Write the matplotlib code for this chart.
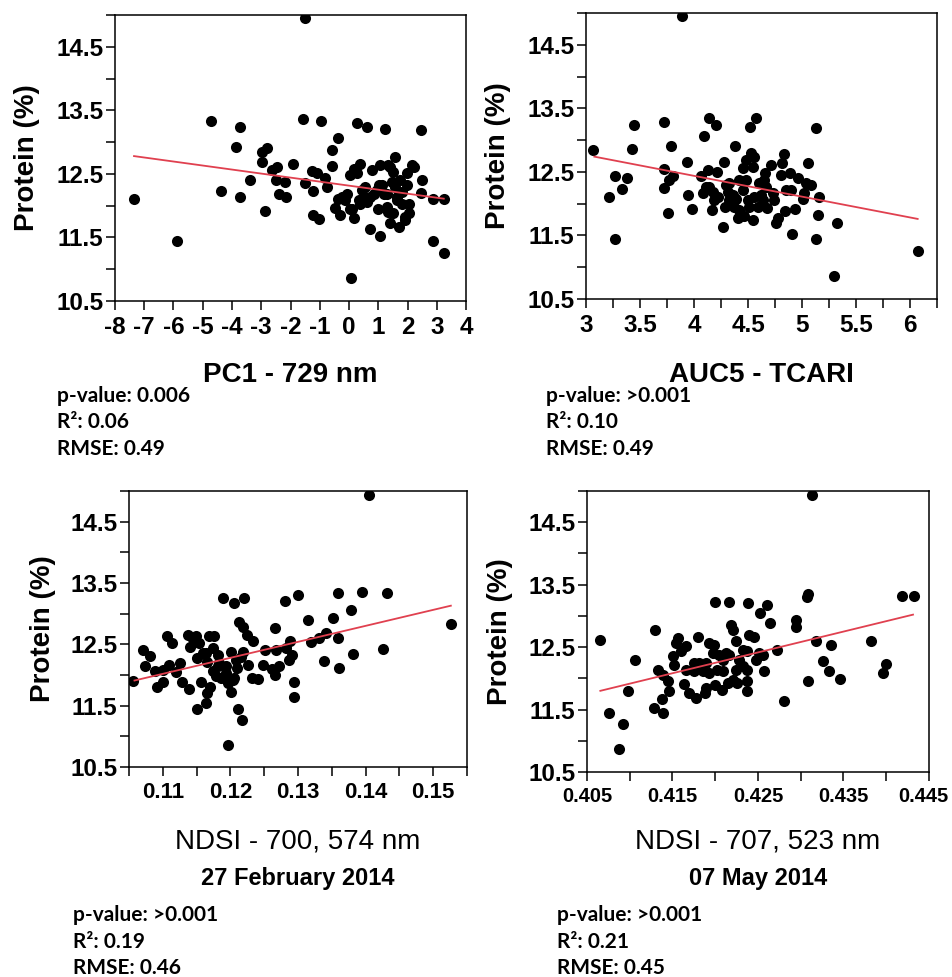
import matplotlib
matplotlib.use("Agg")
import matplotlib.pyplot as plt
import matplotlib.transforms as mtransforms
from matplotlib.ticker import FixedLocator, FuncFormatter

# Panel 1: PC1 - 729 nm
pc1_x = [-1.50, -7.35, -5.87, -4.73, -3.72, -3.88, -4.37, -3.72, -3.38, -2.98,
         -2.81, -2.96, -2.87, -2.64, -2.47, -2.51, -2.18, -2.41, -2.15, -1.92,
         -1.56, -0.95, -1.50, -1.27, -1.10, -1.24, -1.24, -1.01, -0.81, -0.76,
         -0.59, -0.36, -0.59, -0.47, -0.30, -0.24, -0.07, 0.06, 0.04, 0.16,
         0.36, 0.29, 0.61, 0.18, 0.04, 0.33, 0.44, 0.55, 0.61, 0.73,
         0.78, 0.84, 0.98, 1.07, 1.07, 1.13, 1.24, 1.30, 1.33, 1.35,
         1.39, 1.47, 1.58, 1.52, 1.64, 1.70, 1.75, 1.81, 1.92, 1.98,
         2.04, 1.98, 2.04, 2.15, 2.46, 2.49, 2.46, 2.86, 2.87, 3.24,
         3.24, 0.95, 0.50, 1.19, 0.27, 0.55, 1.81, 1.02, 2.21, 0.38,
         1.58, -0.36, 0.73, 1.30, 1.52, 1.92, 0.10, -0.13, 1.41, 1.64]
pc1_y = [14.95, 12.11, 11.44, 13.33, 13.24, 12.92, 12.23, 12.14, 12.41, 12.85,
         12.90, 12.69, 11.91, 12.56, 12.61, 12.41, 12.37, 12.18, 12.14, 12.66,
         13.36, 13.33, 12.35, 12.55, 12.51, 12.23, 11.85, 11.79, 12.43, 12.30,
         12.87, 13.07, 12.63, 11.97, 11.85, 12.14, 12.19, 10.86, 12.49, 12.58,
         12.66, 13.30, 13.24, 11.80, 11.95, 12.09, 12.24, 12.30, 12.06, 11.64,
         12.56, 12.19, 11.94, 11.53, 12.64, 12.32, 13.21, 12.19, 12.64, 11.90,
         11.73, 12.37, 12.77, 12.53, 12.14, 11.67, 12.40, 12.03, 11.82, 12.51,
         11.88, 12.32, 12.03, 12.64, 13.19, 12.40, 12.20, 12.11, 11.44, 12.11,
         11.26, 12.24, 12.14, 12.19, 12.51, 12.11, 12.22, 12.32, 12.61, 12.03,
         12.30, 12.11, 12.14, 11.98, 11.88, 11.77, 11.95, 12.09, 12.61, 12.09]
pc1_fit_x = [-7.35, 3.24]
pc1_fit_y = [12.78, 12.11]

# Panel 2: AUC5 - TCARI
auc_x = [3.886, 3.068, 3.216, 3.269, 3.269, 3.330, 3.380, 3.426, 3.448, 3.719,
         3.719, 3.719, 3.772, 3.802, 3.787, 3.756, 3.932, 3.948, 3.981, 4.065,
         4.096, 4.142, 4.204, 4.080, 4.127, 4.142, 4.173, 4.164, 4.210, 4.225,
         4.272, 4.281, 4.287, 4.296, 4.327, 4.358, 4.383, 4.389, 4.420, 4.420,
         4.451, 4.466, 4.404, 4.451, 4.481, 4.497, 4.519, 4.528, 4.543, 4.574,
         4.559, 4.543, 4.590, 4.605, 4.620, 4.651, 4.660, 4.676, 4.713, 4.728,
         4.738, 4.759, 4.781, 4.806, 4.815, 4.836, 4.846, 4.852, 4.889, 4.898,
         4.907, 4.938, 4.960, 5.006, 5.022, 5.037, 5.052, 5.083, 5.130, 5.130,
         5.151, 5.160, 5.293, 5.324, 6.071, 4.327, 4.481, 4.373, 4.512, 4.636,
         4.111, 4.188, 4.667, 4.312, 4.559]
auc_y = [14.95, 12.84, 12.11, 12.43, 11.44, 12.23, 12.40, 12.86, 13.24, 13.29,
         12.54, 12.25, 12.37, 12.44, 12.91, 11.85, 12.66, 12.14, 11.91, 12.43,
         13.07, 13.35, 13.24, 12.16, 12.53, 12.27, 12.19, 11.90, 12.50, 12.11,
         11.64, 12.65, 11.94, 12.30, 12.32, 12.14, 12.90, 12.07, 12.37, 11.90,
         12.56, 11.80, 11.77, 12.22, 12.69, 12.06, 13.21, 12.79, 12.58, 13.35,
         12.11, 11.74, 11.95, 12.32, 12.14, 12.37, 12.48, 11.93, 12.61, 12.16,
         12.06, 11.70, 11.77, 12.45, 12.64, 12.78, 11.88, 12.22, 12.48, 12.21,
         11.53, 11.91, 12.40, 12.07, 12.16, 12.32, 12.64, 12.30, 13.19, 11.44,
         11.82, 12.11, 10.86, 11.70, 11.26, 12.06, 12.37, 11.95, 11.95, 12.06,
         12.27, 12.06, 12.27, 12.19, 12.74]
auc_fit_x = [3.077, 6.071]
auc_fit_y = [12.74, 11.76]

# Panel 3: NDSI - 700, 574 nm (27 February 2014)
feb_x = [0.1405, 0.10557, 0.10714, 0.10813, 0.10739, 0.10887, 0.10911, 0.11010, 0.1100, 0.11059,
         0.11133, 0.11099, 0.11197, 0.11261, 0.11281, 0.11394, 0.11379, 0.11404, 0.11493, 0.11532,
         0.11507, 0.11507, 0.11567, 0.11640, 0.11650, 0.11704, 0.11690, 0.11764, 0.11739, 0.11650,
         0.11739, 0.11813, 0.11837, 0.11887, 0.11862, 0.11936, 0.11961, 0.12010, 0.11966, 0.12010,
         0.12059, 0.12059, 0.12094, 0.12108, 0.12167, 0.12123, 0.12182, 0.12182, 0.12207, 0.12241,
         0.12256, 0.12330, 0.12320, 0.12404, 0.12478, 0.12512, 0.12616, 0.12665, 0.12675, 0.12665,
         0.12724, 0.12813, 0.12872, 0.12887, 0.12911, 0.12936, 0.12936, 0.12995, 0.13143, 0.13192,
         0.13315, 0.13389, 0.13414, 0.13512, 0.13586, 0.13586, 0.13611, 0.13783, 0.13818, 0.13941,
         0.14261, 0.14310, 0.15261, 0.11813, 0.11591, 0.11936, 0.12084, 0.11788, 0.11443, 0.12158,
         0.12823, 0.12034, 0.11640]
feb_y = [14.93, 11.91, 12.40, 12.31, 12.14, 12.07, 11.80, 11.88, 12.08, 12.64,
         12.52, 12.17, 12.05, 12.20, 11.89, 11.77, 12.65, 12.46, 12.63, 12.52,
         12.27, 11.44, 11.89, 11.54, 11.70, 11.80, 12.63, 12.63, 12.44, 12.22,
         12.06, 12.33, 12.19, 13.25, 11.95, 12.14, 11.87, 11.73, 10.86, 12.37,
         13.18, 11.95, 12.11, 11.44, 11.27, 12.87, 12.78, 12.38, 13.25, 12.65,
         12.17, 12.55, 11.95, 11.94, 12.17, 12.40, 12.10, 12.77, 12.41, 12.00,
         12.14, 13.21, 12.25, 12.55, 12.33, 11.88, 11.64, 13.30, 12.89, 12.54,
         12.60, 12.23, 12.69, 12.93, 13.33, 12.60, 12.11, 13.06, 12.34, 13.35,
         12.42, 13.33, 12.83, 12.14, 12.36, 12.04, 12.25, 11.98, 12.58, 12.30,
         12.44, 11.92, 12.36]
feb_fit_x = [0.10581, 0.15261]
feb_fit_y = [11.91, 13.13]

# Panel 4: NDSI - 707, 523 nm (07 May 2014)
may_x = [0.43129, 0.40656, 0.40753, 0.40917, 0.40878, 0.40975, 0.41061, 0.41295, 0.41279, 0.41384,
         0.41376, 0.41326, 0.41384, 0.41443, 0.41454, 0.41501, 0.41520, 0.41540, 0.41559, 0.41657,
         0.41657, 0.41637, 0.41696, 0.41774, 0.41793, 0.41813, 0.41851, 0.41890, 0.41883, 0.41929,
         0.41988, 0.41996, 0.42000, 0.42015, 0.42046, 0.42077, 0.42093, 0.42124, 0.42163, 0.42163,
         0.42151, 0.42183, 0.42202, 0.42241, 0.42241, 0.42253, 0.42280, 0.42366, 0.42366, 0.42377,
         0.42385, 0.42377, 0.42397, 0.42455, 0.42475, 0.42514, 0.42521, 0.42553, 0.42572, 0.42603,
         0.42642, 0.42728, 0.42806, 0.42950, 0.42950, 0.43071, 0.43086, 0.43086, 0.43184, 0.43265,
         0.43332, 0.43351, 0.43456, 0.43818, 0.43963, 0.44001, 0.44188, 0.44325, 0.41929, 0.42085,
         0.41754, 0.41598, 0.42319, 0.41968, 0.41890, 0.41754, 0.42202, 0.42319]
may_y = [14.93, 12.62, 11.44, 11.27, 10.87, 11.79, 12.30, 12.77, 11.52, 11.44,
         11.67, 12.14, 12.05, 11.95, 11.80, 12.35, 12.21, 12.56, 12.64, 12.51,
         12.13, 11.91, 11.76, 11.68, 12.66, 12.24, 12.11, 11.84, 11.76, 12.57,
         12.53, 13.22, 11.89, 12.13, 12.37, 11.81, 12.11, 12.40, 13.22, 12.37,
         11.92, 12.85, 12.77, 12.60, 12.13, 11.93, 12.29, 11.79, 11.95, 12.13,
         13.20, 12.43, 12.69, 12.66, 12.29, 12.40, 13.05, 12.37, 12.11, 13.17,
         12.88, 12.45, 11.64, 12.93, 12.82, 13.30, 13.35, 11.96, 12.59, 12.28,
         12.11, 12.54, 11.99, 12.60, 12.08, 12.23, 13.32, 13.32, 12.08, 12.29,
         12.24, 12.43, 12.45, 12.40, 12.25, 12.11, 11.97, 12.19]
may_fit_x = [0.40656, 0.44313]
may_fit_y = [11.80, 13.02]

x_labels = ["PC1 - 729 nm", "AUC5 - TCARI", "NDSI - 700, 574 nm", "NDSI - 707, 523 nm"]
dates = ["", "", "27 February 2014", "07 May 2014"]
p_values = ["0.006", ">0.001", ">0.001", ">0.001"]
r2_values = ["0.06", "0.10", "0.19", "0.21"]
rmse_values = ["0.49", "0.49", "0.46", "0.45"]

W, H = 952, 977
AX_FONT = "Liberation Sans"
STAT_FONT = "Lato"


def px_axes(fig, left, top, right, bottom):
    return fig.add_axes([left / W, 1 - bottom / H, (right - left) / W, (bottom - top) / H])


def draw_panel(ax, xs, ys, fit_x, fit_y, xlim, major, minor, fmt, xsize):
    ax.plot(xs, ys, 'o', color='black', markersize=8, markeredgewidth=0, zorder=3)
    ax.plot(fit_x, fit_y, color='#e0404f', linewidth=1.3, zorder=4)
    ax.set_xlim(*xlim)
    ax.set_ylim(10.5, 15.0)
    ax.xaxis.set_major_locator(FixedLocator(major))
    ax.xaxis.set_minor_locator(FixedLocator(minor))
    ax.xaxis.set_major_formatter(FuncFormatter(fmt))
    ax.yaxis.set_major_locator(FixedLocator([10.5, 11.5, 12.5, 13.5, 14.5]))
    ax.yaxis.set_minor_locator(FixedLocator([11, 12, 13, 14, 15]))
    ax.yaxis.set_major_formatter(FuncFormatter(lambda v, p: "%.1f" % v))
    ax.tick_params(which='both', direction='out', length=6.5, width=1.1, color='black')
    ax.tick_params(axis='y', which='major', labelsize=17.5, pad=2)
    ax.tick_params(axis='x', which='major', labelsize=xsize, pad=4)
    for lab in ax.get_xticklabels() + ax.get_yticklabels():
        lab.set_fontfamily(AX_FONT)
        lab.set_fontweight('bold')
    for sp in ax.spines.values():
        sp.set_linewidth(1.1)
    ax.set_ylabel("Protein (%)", fontsize=20, fontweight='bold', family=AX_FONT)
    ax.yaxis.set_label_coords(-0.215, 0.5)


fig = plt.figure(figsize=(W / 100, H / 100), dpi=100)

ax1 = px_axes(fig, 115, 15, 466, 301)
draw_panel(ax1, pc1_x, pc1_y, pc1_fit_x, pc1_fit_y, (-8, 4),
           list(range(-8, 5)), [], lambda v, p: "%d" % round(v), 17.5)

ax2 = px_axes(fig, 586, 13, 937, 299)
draw_panel(ax2, auc_x, auc_y, auc_fit_x, auc_fit_y, (3, 6.25),
           [3, 3.5, 4, 4.5, 5, 5.5, 6], [3.25, 3.75, 4.25, 4.75, 5.25, 5.75, 6.25],
           lambda v, p: "%g" % v, 17.5)

ax3 = px_axes(fig, 129, 491, 467, 767)
draw_panel(ax3, feb_x, feb_y, feb_fit_x, feb_fit_y, (0.105, 0.155),
           [0.11, 0.12, 0.13, 0.14, 0.15], [0.105, 0.115, 0.125, 0.135, 0.145, 0.155],
           lambda v, p: "%.2f" % v, 16)

ax4 = px_axes(fig, 587, 491, 929, 772)
draw_panel(ax4, may_x, may_y, may_fit_x, may_fit_y, (0.405, 0.445),
           [0.405, 0.415, 0.425, 0.435, 0.445], [0.41, 0.42, 0.43, 0.44],
           lambda v, p: "%.3f" % v, 14.5)
# the last label sits against the figure edge; nudge it left a little
last = ax4.get_xticklabels()[-1]
last.set_transform(last.get_transform() + mtransforms.ScaledTranslation(-6 / 100, 0, fig.dpi_scale_trans))

axes = [ax1, ax2, ax3, ax4]
# pixel positions: x label centre, date centre, stats left edge and first line
xlab_y = [375, 375, 841, 841]
date_y = [None, None, 878, 878]
stat_x = [57, 546, 73, 557]
stat_y = [396, 396, 915, 915]
xlab_bold = [True, True, False, False]

for i, ax in enumerate(axes):
    pos = ax.get_position()
    cx = (pos.x0 + pos.x1) / 2
    fig.text(cx, 1 - xlab_y[i] / H, x_labels[i], ha='center', va='center',
             fontsize=20, family=AX_FONT, fontweight='bold' if xlab_bold[i] else 'normal')
    if dates[i]:
        fig.text(cx, 1 - date_y[i] / H, dates[i], ha='center', va='center',
                 fontsize=17, family=AX_FONT, fontweight='bold')
    lines = ["p-value: " + p_values[i], "R²: " + r2_values[i], "RMSE: " + rmse_values[i]]
    for k, s in enumerate(lines):
        fig.text(stat_x[i] / W, 1 - (stat_y[i] + 26.5 * k) / H, s, ha='left', va='center',
                 fontsize=15, family=STAT_FONT, fontweight='bold')

fig.savefig("out.png", dpi=100, facecolor='white')
